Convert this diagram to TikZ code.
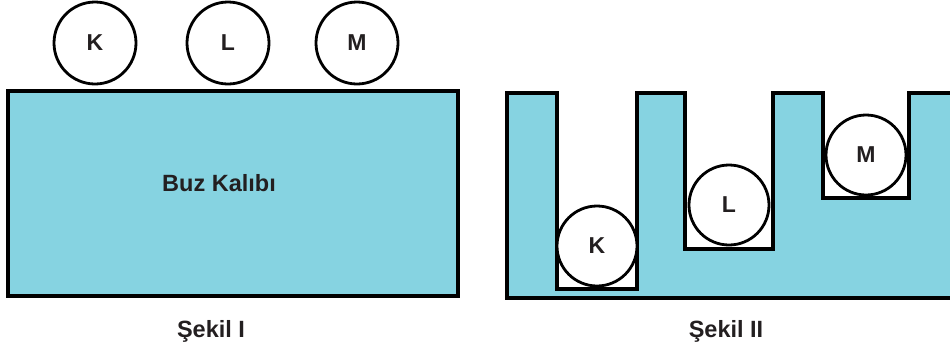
\documentclass[tikz,border=0pt]{standalone}
\usepackage{fontspec}
\setmainfont{Liberation Sans}
\definecolor{ice}{RGB}{134,211,225}
\definecolor{ink}{RGB}{35,31,32}
\tikzset{
  ball/.style={circle, draw=black, line width=2.8pt, fill=white, minimum size=82pt, inner sep=0pt, text=ink, font=\bfseries\fontsize{23}{23}\selectfont},
  smallball/.style={ball, minimum size=80pt},
  block/.style={fill=ice, draw=black, line width=3.2pt, line join=miter},
  lbl/.style={text=ink, font=\bfseries\fontsize{23.5}{23.5}\selectfont, inner sep=0pt}
}
\begin{document}
\begin{tikzpicture}[x=1pt,y=-1pt]
\useasboundingbox (0,0) rectangle (950,354);
% Figure I
\path[block] (8,91) rectangle (458,296);
\node[lbl] (buz) at (219,183) {Buz Kalıbı};
\node[ball] (k1) at (95,43) {K};
\node[ball] (l1) at (228,43) {L};
\node[ball] (m1) at (357,43) {M};
\node[lbl] (s1) at (211,331) {Şekil I};
% Figure II
\begin{scope}
\clip (0,0) rectangle (950,354);
\path[block] (507,93) -- (557,93) -- (557,289) -- (637,289) -- (637,93)
  -- (685,93) -- (685,249) -- (773,249) -- (773,93)
  -- (823,93) -- (823,198) -- (909,198) -- (909,93)
  -- (960,93) -- (960,298) -- (507,298) -- cycle;
\end{scope}
\node[smallball] (k2) at (597,246) {K};
\node[smallball] (l2) at (729,205) {L};
\node[smallball] (m2) at (866,155) {M};
\node[lbl] (s2) at (726,331) {Şekil II};
\end{tikzpicture}
\end{document}
